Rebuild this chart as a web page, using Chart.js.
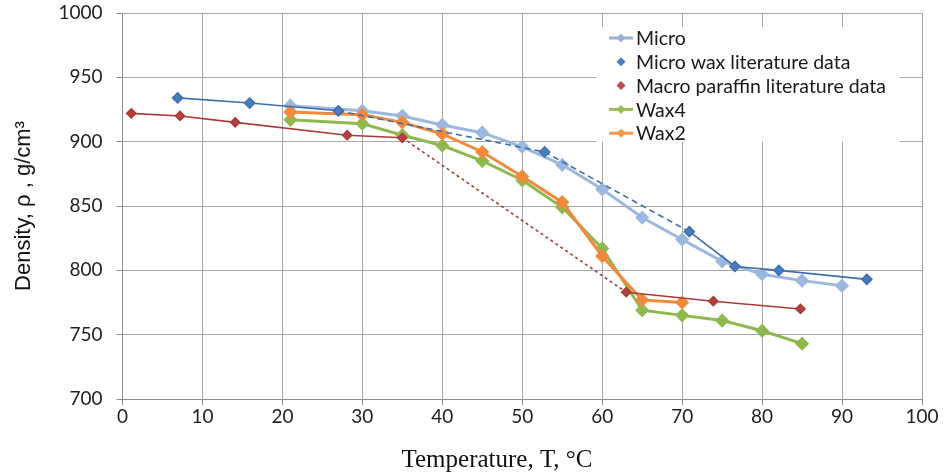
<!DOCTYPE html>
<html>
<head>
<meta charset="utf-8">
<script src="https://cdn.jsdelivr.net/npm/chart.js@4"></script>
<style>
  html, body { margin: 0; padding: 0; background: #fff; }
  #wrap { width: 943px; height: 474px; }
</style>
</head>
<body>
<div id="wrap"><canvas id="densityChart" width="943" height="474"></canvas></div>
<script>
// Density vs temperature readings
const microT = [21, 30, 35, 40, 45, 50, 55, 60, 65, 70, 75, 80, 85, 90];
const microRho = [928, 924, 920, 913, 907, 896, 882, 863, 841, 824, 807, 797, 792, 788];

const microLitT = [6.9, 15.9, 27, 52.8, 70.9, 76.6, 82.1, 93.1];
const microLitRho = [934, 930, 924, 892, 830, 803, 800, 793];
const microLitDashed = [2, 3]; // segments starting at these indices are dashed

const macroLitT = [1.1, 7.2, 14.1, 28.1, 35, 63, 73.9, 84.8];
const macroLitRho = [922, 920, 915, 905, 903, 783, 776, 770];
const macroLitDashed = [4];

const wax4T = [21, 30, 35, 40, 45, 50, 55, 60, 65, 70, 75, 80, 85];
const wax4Rho = [917, 914, 905, 897, 885, 870, 849, 817, 769, 765, 761, 753, 743];

const wax2T = [21, 30, 35, 40, 45, 50, 55, 60, 65, 70];
const wax2Rho = [923, 921, 915, 906, 892, 873, 853, 811, 777, 775];

const xTicks = [0, 10, 20, 30, 40, 50, 60, 70, 80, 90, 100];
const yTicks = [700, 750, 800, 850, 900, 950, 1000];

function pts(xs, ys) {
    return xs.map((x, i) => ({ x: x, y: ys[i] }));
}

const tickFont = { family: 'Lato', size: 19 };

// Legend drawn inside the plot, Excel style
const legendItems = [
    { label: 'Micro', color: '#95b3d7', line: true, width: 3 },
    { label: 'Micro wax literature data', color: '#4a7ebb', line: false },
    { label: 'Macro paraffin literature data', color: '#be4b48', line: false },
    { label: 'Wax4', color: '#9bbb59', line: true, width: 3 },
    { label: 'Wax2', color: '#f79646', line: true, width: 3 }
];

const insideLegend = {
    id: 'insideLegend',
    afterDatasetsDraw(chart) {
        const ctx = chart.ctx;
        ctx.save();
        ctx.fillStyle = '#fff';
        ctx.fillRect(596, 27, 304, 115);
        ctx.font = '19.5px Lato';
        ctx.textBaseline = 'middle';
        legendItems.forEach((item, i) => {
            const y = 38 + i * 23.8;
            ctx.strokeStyle = item.color;
            ctx.fillStyle = item.color;
            if (item.line) {
                ctx.lineWidth = item.width;
                ctx.beginPath();
                ctx.moveTo(609, y);
                ctx.lineTo(633, y);
                ctx.stroke();
            }
            ctx.beginPath();
            ctx.moveTo(621, y - 4.5);
            ctx.lineTo(625.5, y);
            ctx.lineTo(621, y + 4.5);
            ctx.lineTo(616.5, y);
            ctx.closePath();
            ctx.fill();
            ctx.fillStyle = '#1a1a1a';
            ctx.fillText(item.label, 636, y + 1);
        });
        ctx.restore();
    }
};

// x axis title sits a little left of the plot centre in the original
const xTitle = {
    id: 'xTitle',
    afterDraw(chart) {
        const ctx = chart.ctx;
        ctx.save();
        ctx.font = '25px "Liberation Serif"';
        ctx.fillStyle = '#111';
        ctx.textAlign = 'center';
        ctx.textBaseline = 'middle';
        ctx.fillText('Temperature, T, °C', 497, 460);
        ctx.restore();
    }
};

function dashSeg(list, dash) {
    return ctx => list.includes(ctx.p0DataIndex) ? dash : undefined;
}

new Chart(document.getElementById('densityChart'), {
    type: 'line',
    data: {
        datasets: [
            {
                label: 'Micro wax literature data',
                data: pts(microLitT, microLitRho),
                borderColor: '#3f6fae',
                backgroundColor: '#4a7ebb',
                borderWidth: 1.6,
                pointStyle: 'rectRot',
                pointRadius: 5,
                segment: { borderDash: dashSeg(microLitDashed, [6, 4]) },
                order: 0
            },
            {
                label: 'Macro paraffin literature data',
                data: pts(macroLitT, macroLitRho),
                borderColor: '#a83a37',
                backgroundColor: '#b5403d',
                borderWidth: 1.6,
                pointStyle: 'rectRot',
                pointRadius: 4.5,
                segment: { borderDash: dashSeg(macroLitDashed, [3, 3]) },
                order: 1
            },
            {
                label: 'Wax2',
                data: pts(wax2T, wax2Rho),
                borderColor: '#f08a3c',
                backgroundColor: '#f08a3c',
                borderWidth: 3,
                pointStyle: 'rectRot',
                pointRadius: 5,
                order: 2
            },
            {
                label: 'Wax4',
                data: pts(wax4T, wax4Rho),
                borderColor: '#8fb84f',
                backgroundColor: '#8fb84f',
                borderWidth: 3,
                pointStyle: 'rectRot',
                pointRadius: 5,
                order: 3
            },
            {
                label: 'Micro',
                data: pts(microT, microRho),
                borderColor: '#9cb8de',
                backgroundColor: '#9cb8de',
                borderWidth: 3,
                pointStyle: 'rectRot',
                pointRadius: 5,
                order: 4
            }
        ]
    },
    options: {
        responsive: false,
        animation: false,
        layout: { padding: { top: 13, right: 21, left: 0, bottom: 0 } },
        plugins: {
            legend: { display: false },
            tooltip: { enabled: false }
        },
        scales: {
            x: {
                type: 'linear',
                min: 0,
                max: 100,
                afterBuildTicks: scale => { scale.ticks = xTicks.map(v => ({ value: v })); },
                afterFit: scale => {
                    scale.height = 75;
                    scale.paddingRight = 0;
                },
                ticks: { font: tickFont, color: '#222', padding: 0 },
                grid: { color: '#a6a6a6', tickLength: 6, tickColor: '#8c8c8c' },
                border: { color: '#8c8c8c' }
            },
            y: {
                min: 700,
                max: 1000,
                afterBuildTicks: scale => { scale.ticks = yTicks.map(v => ({ value: v })); },
                afterFit: scale => {
                    scale.width = 122.5;
                    scale.paddingTop = 0;
                    scale.paddingBottom = 0;
                },
                ticks: {
                    font: tickFont,
                    color: '#222',
                    padding: 14,
                    callback: v => String(v)
                },
                grid: { color: '#a6a6a6', tickLength: 6, tickColor: '#8c8c8c' },
                border: { color: '#8c8c8c' },
                title: {
                    display: true,
                    text: 'Density, ρ , g/cm³',
                    font: { family: 'Liberation Sans', size: 22 },
                    color: '#111',
                    padding: { top: 11, bottom: 0 }
                }
            }
        }
    },
    plugins: [insideLegend, xTitle]
});
</script>
</body>
</html>
